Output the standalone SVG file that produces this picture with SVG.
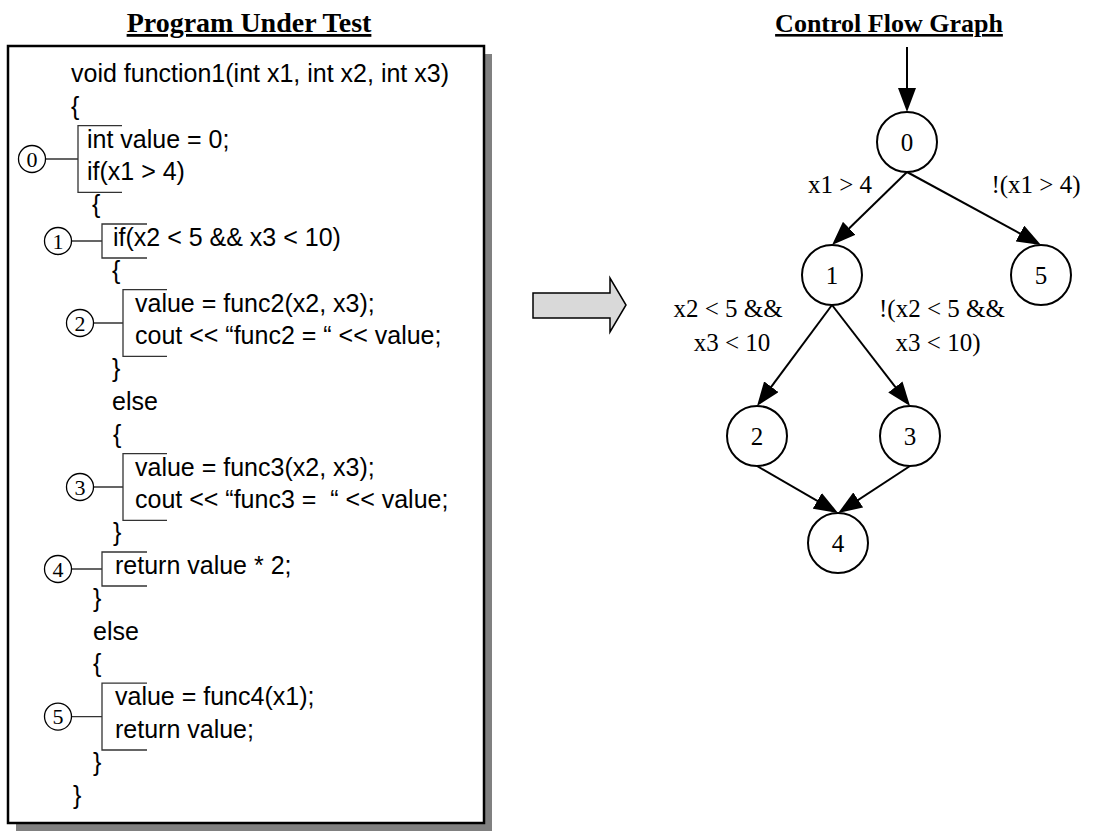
<svg xmlns="http://www.w3.org/2000/svg" width="1096" height="832" viewBox="0 0 1096 832">
<style>
.title{font-family:"Liberation Serif","Times New Roman",serif;font-weight:bold;text-decoration:underline;text-anchor:middle;fill:#000}
.code{font-family:"Liberation Sans",Arial,sans-serif;font-size:25px;white-space:pre;fill:#000}
.br{fill:none;stroke:#333;stroke-width:1.3}
.cn{fill:#fff;stroke:#000;stroke-width:1.3}
.cnl{font-family:"Liberation Serif","Times New Roman",serif;font-size:22px;text-anchor:middle;fill:#000}
.gn{fill:#fff;stroke:#000;stroke-width:2}
.gnl{font-family:"Liberation Serif","Times New Roman",serif;font-size:25px;text-anchor:middle;fill:#000}
.edge{stroke:#000;stroke-width:2;fill:none;marker-end:url(#ah)}
.el{font-family:"Liberation Serif","Times New Roman",serif;font-size:25px;text-anchor:middle;fill:#000;white-space:pre}
</style>
<defs>
<marker id="ah" markerUnits="userSpaceOnUse" markerWidth="24" markerHeight="18" refX="20" refY="9" orient="auto">
<path d="M0,0 L24,9 L0,18 z" fill="#000"/>
</marker>
</defs>
<rect width="1096" height="832" fill="#fff"/>

<g id="program-panel">
<text class="title" x="249" y="32" font-size="28">Program Under Test</text>
<rect x="16" y="54" width="476" height="777" fill="#808080"/>
<rect x="8" y="46" width="476" height="777" fill="#fff" stroke="#000" stroke-width="2.5"/>
<g id="code">
<text class="code" x="71" y="82">void function1(int x1, int x2, int x3)</text>
<text class="code" x="71" y="114.8">{</text>
<text class="code" x="87" y="147.6">int value = 0;</text>
<text class="code" x="87" y="180.4">if(x1 &gt; 4)</text>
<text class="code" x="92" y="213.2">{</text>
<text class="code" x="113" y="246">if(x2 &lt; 5 &amp;&amp; x3 &lt; 10)</text>
<text class="code" x="112" y="278.8">{</text>
<text class="code" x="135" y="311.6">value = func2(x2, x3);</text>
<text class="code" x="135" y="344.4">cout &lt;&lt; “func2 = “ &lt;&lt; value;</text>
<text class="code" x="112" y="377.2">}</text>
<text class="code" x="112" y="410">else</text>
<text class="code" x="113" y="442.8">{</text>
<text class="code" x="135" y="475.6">value = func3(x2, x3);</text>
<text class="code" x="135" y="508.4">cout &lt;&lt; “func3 =  “ &lt;&lt; value;</text>
<text class="code" x="113" y="541.2">}</text>
<text class="code" x="115" y="574">return value * 2;</text>
<text class="code" x="93" y="606.8">}</text>
<text class="code" x="93" y="639.6">else</text>
<text class="code" x="93" y="672.4">{</text>
<text class="code" x="115" y="705.2">value = func4(x1);</text>
<text class="code" x="115" y="738">return value;</text>
<text class="code" x="93" y="770.8">}</text>
<text class="code" x="73" y="803.6">}</text>
</g>
<g id="block0">
<path class="br" d="M122,125.6 H78 V192.4 H122 M45,159 H78"/>
<circle class="cn" cx="32" cy="159" r="13.5"/>
<text class="cnl" x="32" y="166.5">0</text>
</g>
<g id="block1">
<path class="br" d="M147,224 H102 V258 H147 M71,241 H102"/>
<circle class="cn" cx="58" cy="241" r="13.5"/>
<text class="cnl" x="58" y="248.5">1</text>
</g>
<g id="block2">
<path class="br" d="M167,289.6 H123 V356.4 H167 M93,323 H123"/>
<circle class="cn" cx="80" cy="323" r="13.5"/>
<text class="cnl" x="80" y="330.5">2</text>
</g>
<g id="block3">
<path class="br" d="M167,453.6 H123 V520.4 H167 M93,487 H123"/>
<circle class="cn" cx="80" cy="487" r="13.5"/>
<text class="cnl" x="80" y="494.5">3</text>
</g>
<g id="block4">
<path class="br" d="M147,552 H102 V586 H147 M71,569 H102"/>
<circle class="cn" cx="58" cy="569" r="13.5"/>
<text class="cnl" x="58" y="576.5">4</text>
</g>
<g id="block5">
<path class="br" d="M147,683.2 H102 V750 H147 M71,716.6 H102"/>
<circle class="cn" cx="58" cy="716.6" r="13.5"/>
<text class="cnl" x="58" y="724.1">5</text>
</g>
</g>

<g id="transform-arrow">
<polygon points="533,293 610,293 610,278 626,305 610,332 610,318 533,318" fill="#d9d9d9" stroke="#000" stroke-width="1.5"/>
</g>

<g id="cfg">
<text class="title" x="889" y="32" font-size="26">Control Flow Graph</text>
<g id="connectors">
<path class="edge" d="M907,47 L907,108"/>
<path class="edge" d="M907,172 L834.9,242.2"/>
<path class="edge" d="M907,172 L1037.5,243.1"/>
<path class="edge" d="M832,305 L759.4,402.8"/>
<path class="edge" d="M832,305 L907.6,402.8"/>
<path class="edge" d="M757,466 L834.6,510.9"/>
<path class="edge" d="M910,466 L841.5,510.9"/>
<text class="el" x="840" y="193">x1 &gt; 4</text>
<text class="el" x="1036" y="193">!(x1 &gt; 4)</text>
<text class="el" x="728" y="317">x2 &lt; 5 &amp;&amp;</text>
<text class="el" x="732" y="351">x3 &lt; 10</text>
<text class="el" x="942" y="317">!(x2 &lt; 5 &amp;&amp;</text>
<text class="el" x="938" y="351">x3 &lt; 10)</text>
</g>
<g id="n0"><circle class="gn" cx="907" cy="142" r="30"/><text class="gnl" x="907" y="150.5">0</text></g>
<g id="n1"><circle class="gn" cx="832" cy="275" r="30"/><text class="gnl" x="832" y="283.5">1</text></g>
<g id="n5"><circle class="gn" cx="1041" cy="275" r="30"/><text class="gnl" x="1041" y="283.5">5</text></g>
<g id="n2"><circle class="gn" cx="757" cy="436" r="30"/><text class="gnl" x="757" y="444.5">2</text></g>
<g id="n3"><circle class="gn" cx="910" cy="436" r="30"/><text class="gnl" x="910" y="444.5">3</text></g>
<g id="n4"><circle class="gn" cx="838" cy="543" r="30"/><text class="gnl" x="838" y="551.5">4</text></g>
</g>
</svg>
